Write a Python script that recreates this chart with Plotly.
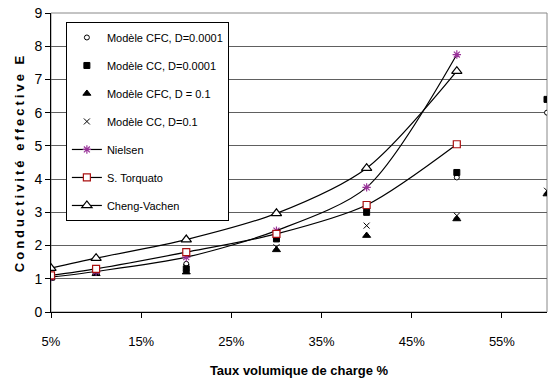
import plotly.graph_objects as go

x_pts = [0.05, 0.10, 0.20, 0.30, 0.40, 0.50, 0.60]
x_lines = [0.05, 0.10, 0.20, 0.30, 0.40, 0.50]

cfc_0001 = [1.08, 1.25, 1.45, 2.30, 3.10, 4.05, 6.00]
cc_0001 = [1.05, 1.20, 1.30, 2.20, 3.00, 4.20, 6.40]
cfc_01 = [1.02, 1.15, 1.20, 1.87, 2.30, 2.80, 3.55]
cc_01 = [1.05, 1.20, 1.35, 1.95, 2.60, 2.90, 3.65]

nielsen = [1.05, 1.22, 1.65, 2.45, 3.75, 7.75]
torquato = [1.10, 1.30, 1.80, 2.35, 3.22, 5.05]
cheng = [1.32, 1.62, 2.18, 2.97, 4.33, 7.25]

x_ticks = [0.05, 0.15, 0.25, 0.35, 0.45, 0.55]
y_ticks = list(range(0, 10))

FONT = "Arial, Liberation Sans, sans-serif"

fig = go.Figure()

def pts(name, y, symbol, size, color, fill=None, lw=1):
    fig.add_trace(go.Scatter(
        x=x_pts, y=y, mode="markers", name=name, legendgroup=name,
        marker=dict(symbol=symbol, size=size, color=fill if fill else color,
                    line=dict(color=color, width=lw)),
    ))

pts("Modèle CFC, D=0.0001", cfc_0001, "circle", 5, "black", fill="white", lw=1)
pts("Modèle CC, D=0.0001", cc_0001, "square", 6, "black")
pts("Modèle CFC, D = 0.1", cfc_01, "triangle-up", 7, "black")
pts("Modèle CC, D=0.1", cc_01, "x-thin-open", 6, "black", lw=1)

def line(name, y, symbol, size, mcolor, fill):
    fig.add_trace(go.Scatter(
        x=x_lines, y=y, mode="lines+markers", name=name, legendgroup=name,
        line=dict(color="black", width=1.2, shape="spline", smoothing=0.8),
        marker=dict(symbol=symbol, size=size, color=fill,
                    line=dict(color=mcolor, width=1.2)),
    ))

line("Nielsen", nielsen, "asterisk-open", 7, "#993399", "#993399")
line("S. Torquato", torquato, "square", 7, "#aa1111", "white")
line("Cheng-Vachen", cheng, "triangle-up", 9, "black", "white")

fig.update_layout(
    width=552, height=387,
    margin=dict(l=51, r=5, t=13, b=75),
    paper_bgcolor="white", plot_bgcolor="white",
    font=dict(family=FONT, size=12, color="black"),
    showlegend=True,
    legend=dict(
        x=0.03, y=0.97, xanchor="left", yanchor="top",
        bgcolor="white", bordercolor="black", borderwidth=1,
        font=dict(family=FONT, size=11, color="black"),
        traceorder="grouped", tracegroupgap=9,
        itemwidth=30,
    ),
    shapes=[dict(type="rect", xref="paper", yref="paper", x0=0, x1=1, y0=0, y1=1,
                 line=dict(color="#888888", width=1), layer="below")],
)

fig.update_xaxes(
    range=[0.05, 0.60], tickvals=x_ticks, tickformat=".0%",
    ticks="outside", ticklen=5, tickcolor="black",
    showline=True, linecolor="black", linewidth=1, showgrid=False, zeroline=False,
    tickfont=dict(family=FONT, size=13), ticklabelstandoff=12,
    title=dict(text="<b>Taux volumique de charge %</b>", font=dict(family=FONT, size=13), standoff=18),
)
fig.update_yaxes(
    range=[0, 9], tickvals=y_ticks,
    ticks="outside", ticklen=5, tickcolor="black",
    showline=True, linecolor="black", linewidth=1,
    showgrid=True, gridcolor="#606060", gridwidth=1, zeroline=False,
    tickfont=dict(family=FONT, size=14),
    title=dict(text='<b><span style="letter-spacing:3px">Conductivité effective E</span></b>',
               font=dict(family=FONT, size=13), standoff=6),
)

fig.write_html("out.html")
